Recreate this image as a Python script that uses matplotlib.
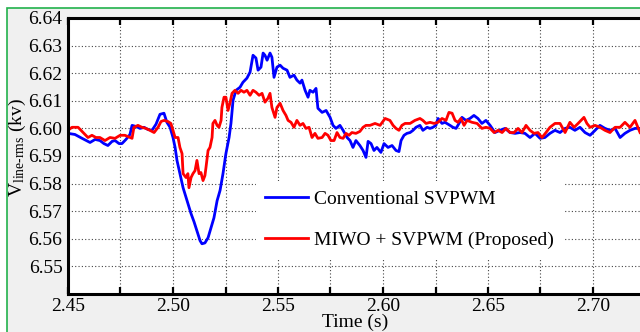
import numpy as np
import matplotlib
matplotlib.use("Agg")
import matplotlib.pyplot as plt
from matplotlib.patches import Rectangle
from matplotlib.ticker import MultipleLocator, FormatStrFormatter

plt.rcParams['font.family'] = ['Liberation Serif', 'DejaVu Serif']
plt.rcParams['mathtext.fontset'] = 'custom'
plt.rcParams['mathtext.rm'] = 'Liberation Serif'
plt.rcParams['mathtext.it'] = 'Liberation Serif:italic'

# Conventional SVPWM (blue)
t_conv = [2.4500, 2.4533, 2.4567, 2.4605, 2.4629, 2.4652, 2.4671, 2.4690, 2.4710, 2.4724,
          2.4743, 2.4757, 2.4776, 2.4795, 2.4805, 2.4824, 2.4843, 2.4862, 2.4881, 2.4900,
          2.4919, 2.4938, 2.4957, 2.4971, 2.4986, 2.5000, 2.5010, 2.5019, 2.5033, 2.5048,
          2.5067, 2.5086, 2.5100, 2.5114, 2.5129, 2.5138, 2.5152, 2.5167, 2.5181, 2.5195,
          2.5210, 2.5224, 2.5238, 2.5252, 2.5267, 2.5276, 2.5286, 2.5300, 2.5319, 2.5333,
          2.5352, 2.5367, 2.5381, 2.5395, 2.5405, 2.5419, 2.5429, 2.5438, 2.5448, 2.5462,
          2.5471, 2.5481, 2.5495, 2.5510, 2.5524, 2.5543, 2.5557, 2.5576, 2.5590, 2.5605,
          2.5614, 2.5629, 2.5643, 2.5652, 2.5667, 2.5681, 2.5690, 2.5710, 2.5729, 2.5748,
          2.5762, 2.5776, 2.5795, 2.5810, 2.5829, 2.5843, 2.5857, 2.5871, 2.5890, 2.5905,
          2.5919, 2.5929, 2.5943, 2.5957, 2.5971, 2.5990, 2.6005, 2.6024, 2.6043, 2.6062,
          2.6076, 2.6086, 2.6100, 2.6114, 2.6129, 2.6143, 2.6157, 2.6176, 2.6190, 2.6210,
          2.6224, 2.6238, 2.6252, 2.6262, 2.6281, 2.6295, 2.6319, 2.6333, 2.6348, 2.6362,
          2.6376, 2.6395, 2.6414, 2.6433, 2.6452, 2.6471, 2.6490, 2.6510, 2.6533, 2.6557,
          2.6581, 2.6605, 2.6629, 2.6652, 2.6676, 2.6700, 2.6724, 2.6748, 2.6771, 2.6795,
          2.6819, 2.6843, 2.6867, 2.6890, 2.6914, 2.6938, 2.6962, 2.6986, 2.7010, 2.7033,
          2.7057, 2.7081, 2.7105, 2.7129, 2.7152, 2.7176, 2.7200, 2.7224]
v_conv = [6.5982, 6.5978, 6.5964, 6.5949, 6.5960, 6.5956, 6.5945, 6.5938, 6.5953, 6.5956,
          6.5945, 6.5945, 6.5960, 6.5978, 6.6011, 6.6007, 6.6000, 6.6004, 6.5996, 6.5993,
          6.6015, 6.6051, 6.6055, 6.6022, 6.6004, 6.5967, 6.5931, 6.5884, 6.5836, 6.5785,
          6.5738, 6.5691, 6.5662, 6.5629, 6.5593, 6.5582, 6.5585, 6.5604, 6.5640, 6.5676,
          6.5738, 6.5775, 6.5836, 6.5909, 6.5967, 6.6018, 6.6102, 6.6138, 6.6149, 6.6167,
          6.6182, 6.6204, 6.6265, 6.6255, 6.6211, 6.6222, 6.6273, 6.6265, 6.6247, 6.6273,
          6.6258, 6.6185, 6.6222, 6.6229, 6.6218, 6.6211, 6.6185, 6.6193, 6.6175, 6.6164,
          6.6175, 6.6138, 6.6113, 6.6138, 6.6131, 6.6145, 6.6073, 6.6058, 6.6065, 6.6040,
          6.6011, 6.6000, 6.6011, 6.5993, 6.5967, 6.5956, 6.5931, 6.5956, 6.5938, 6.5920,
          6.5895, 6.5953, 6.5945, 6.5920, 6.5931, 6.5913, 6.5945, 6.5931, 6.5938, 6.5920,
          6.5916, 6.5956, 6.5975, 6.5982, 6.5985, 6.5993, 6.6004, 6.6011, 6.5993, 6.6004,
          6.6000, 6.6004, 6.6011, 6.6036, 6.6018, 6.6022, 6.6011, 6.6004, 6.6000, 6.6018,
          6.6040, 6.6029, 6.6036, 6.6047, 6.6036, 6.6018, 6.6029, 6.6011, 6.5985, 6.5993,
          6.6000, 6.5985, 6.5982, 6.5985, 6.5982, 6.5967, 6.5982, 6.5964, 6.5967, 6.5982,
          6.5993, 6.5985, 6.6000, 6.6004, 6.5993, 6.6004, 6.5985, 6.5975, 6.5993, 6.6011,
          6.6000, 6.5993, 6.6000, 6.5967, 6.5982, 6.5993, 6.6000, 6.6000]

# MIWO + SVPWM (red)
t_miwo = [2.4500, 2.4519, 2.4548, 2.4576, 2.4595, 2.4614, 2.4633, 2.4652, 2.4676, 2.4700,
          2.4724, 2.4748, 2.4771, 2.4795, 2.4805, 2.4814, 2.4833, 2.4852, 2.4871, 2.4890,
          2.4910, 2.4929, 2.4943, 2.4957, 2.4976, 2.4990, 2.5000, 2.5010, 2.5024, 2.5033,
          2.5043, 2.5048, 2.5062, 2.5071, 2.5076, 2.5086, 2.5095, 2.5105, 2.5114, 2.5124,
          2.5133, 2.5143, 2.5152, 2.5157, 2.5167, 2.5176, 2.5186, 2.5190, 2.5200, 2.5210,
          2.5219, 2.5229, 2.5233, 2.5243, 2.5252, 2.5262, 2.5271, 2.5281, 2.5295, 2.5310,
          2.5324, 2.5338, 2.5352, 2.5367, 2.5381, 2.5395, 2.5410, 2.5424, 2.5438, 2.5452,
          2.5462, 2.5471, 2.5486, 2.5495, 2.5510, 2.5524, 2.5538, 2.5548, 2.5562, 2.5576,
          2.5590, 2.5605, 2.5619, 2.5633, 2.5648, 2.5662, 2.5676, 2.5690, 2.5710, 2.5724,
          2.5738, 2.5752, 2.5767, 2.5781, 2.5795, 2.5810, 2.5824, 2.5838, 2.5852, 2.5871,
          2.5890, 2.5905, 2.5919, 2.5938, 2.5962, 2.5986, 2.6010, 2.6033, 2.6048, 2.6062,
          2.6076, 2.6090, 2.6105, 2.6129, 2.6152, 2.6176, 2.6190, 2.6205, 2.6224, 2.6243,
          2.6262, 2.6281, 2.6300, 2.6314, 2.6329, 2.6343, 2.6357, 2.6371, 2.6386, 2.6400,
          2.6424, 2.6448, 2.6471, 2.6490, 2.6510, 2.6529, 2.6548, 2.6567, 2.6586, 2.6605,
          2.6624, 2.6643, 2.6662, 2.6681, 2.6700, 2.6719, 2.6738, 2.6757, 2.6776, 2.6795,
          2.6819, 2.6843, 2.6867, 2.6890, 2.6910, 2.6929, 2.6957, 2.6971, 2.6986, 2.7010,
          2.7033, 2.7057, 2.7081, 2.7105, 2.7129, 2.7152, 2.7176, 2.7200, 2.7224]
v_miwo = [6.5993, 6.6004, 6.6004, 6.5982, 6.5967, 6.5975, 6.5967, 6.5967, 6.5956, 6.5967,
          6.5964, 6.5975, 6.5975, 6.5967, 6.5964, 6.6004, 6.6011, 6.6004, 6.6000, 6.5993,
          6.5985, 6.6004, 6.6025, 6.6029, 6.6025, 6.6018, 6.5993, 6.5967, 6.5967, 6.5931,
          6.5909, 6.5836, 6.5822, 6.5836, 6.5785, 6.5822, 6.5836, 6.5847, 6.5884, 6.5836,
          6.5840, 6.5811, 6.5829, 6.5858, 6.5920, 6.5931, 6.5967, 6.6018, 6.6029, 6.6011,
          6.6004, 6.6029, 6.6076, 6.6113, 6.6113, 6.6065, 6.6091, 6.6127, 6.6138, 6.6127,
          6.6138, 6.6131, 6.6138, 6.6120, 6.6138, 6.6131, 6.6120, 6.6127, 6.6095, 6.6109,
          6.6127, 6.6076, 6.6040, 6.6076, 6.6091, 6.6065, 6.6047, 6.6029, 6.6022, 6.6004,
          6.6029, 6.6011, 6.6018, 6.6000, 6.6004, 6.5967, 6.5982, 6.5964, 6.5967, 6.5982,
          6.5975, 6.5956, 6.5956, 6.5985, 6.5967, 6.5964, 6.5982, 6.5975, 6.5985, 6.5982,
          6.5989, 6.6004, 6.6011, 6.6011, 6.6018, 6.6011, 6.6036, 6.6029, 6.6011, 6.6000,
          6.5993, 6.6011, 6.6018, 6.6018, 6.6029, 6.6036, 6.6029, 6.6018, 6.6022, 6.6018,
          6.6022, 6.6036, 6.6029, 6.6058, 6.6055, 6.6029, 6.6022, 6.6036, 6.6011, 6.6029,
          6.6022, 6.6018, 6.6000, 6.6004, 6.6000, 6.5985, 6.5993, 6.5985, 6.6000, 6.5985,
          6.5985, 6.6000, 6.5985, 6.6011, 6.5993, 6.5982, 6.5985, 6.5967, 6.5985, 6.6004,
          6.6018, 6.6018, 6.5985, 6.6022, 6.6004, 6.6018, 6.6040, 6.6018, 6.6004, 6.6011,
          6.6004, 6.5993, 6.5985, 6.6004, 6.6004, 6.6022, 6.6004, 6.6029, 6.5985]

labels = ['Conventional SVPWM', 'MIWO + SVPWM (Proposed)']
yticks = [6.55, 6.56, 6.57, 6.58, 6.59, 6.60, 6.61, 6.62, 6.63, 6.64]

W, H = 640, 332
fig = plt.figure(figsize=(6.4, 3.32), dpi=100, facecolor='white')

# gray panel with green frame (top and left edges visible)
fig.patches.append(Rectangle((7 / W, -0.1), 1.2, 1 - 8 / H + 0.1, transform=fig.transFigure,
                             facecolor='#f0f0f0', edgecolor='#22b14c', linewidth=1.2, zorder=-5))

ax_left, ax_bot, ax_top = 68 / W, 38 / H, 314 / H
x_right_px = 672
ax = fig.add_axes([ax_left, ax_bot, (x_right_px - 68) / W, ax_top - ax_bot])
ax.set_facecolor('white')

ax.plot(t_conv, v_conv, color='#0000ff', lw=2.0, label=labels[0])
ax.plot(t_miwo, v_miwo, color='#ff0000', lw=2.0, label=labels[1])

ax.set_xlim(2.45, 2.45 + (x_right_px - 68) / 2100)
ax.set_ylim(6.54, 6.64)
ax.xaxis.set_major_locator(MultipleLocator(0.05))
ax.xaxis.set_minor_locator(MultipleLocator(0.025))
ax.xaxis.set_major_formatter(FormatStrFormatter('%.2f'))
ax.set_yticks(yticks)
ax.yaxis.set_major_formatter(FormatStrFormatter('%.2f'))

ax.grid(True, which='both', axis='x', color='#444444', linestyle=(0, (1, 2)), lw=0.8)
ax.grid(True, which='major', axis='y', color='#444444', linestyle=(0, (1, 2)), lw=0.8)

ax.tick_params(axis='x', which='both', direction='in', top=True, length=5, width=1.6,
               labelsize=14, pad=3)
ax.tick_params(axis='y', which='both', length=0, labelsize=14, pad=4)
for s in ax.spines.values():
    s.set_linewidth(2.2)

ax.set_ylabel(r'V$_{\text{line-rms}}$ (kv)', fontsize=14, labelpad=0)
ax.yaxis.set_label_coords(-0.066, 0.53)
fig.text(355 / W, 1 - 322 / H, 'Time (s)', fontsize=14, ha='center', va='center')

leg = ax.legend(loc='upper left', bbox_to_anchor=(246 / W, 1 - 171 / H),
                bbox_transform=fig.transFigure, fontsize=14, frameon=True,
                facecolor='white', edgecolor='none', framealpha=1, fancybox=False,
                handlelength=2.2, handletextpad=0.3, labelspacing=1.2, borderpad=0.5)

fig.savefig('out.png', dpi=100, facecolor=fig.get_facecolor())
